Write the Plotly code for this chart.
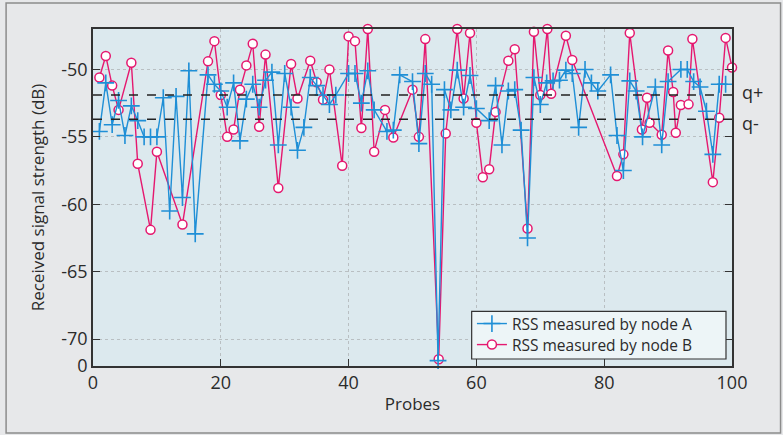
import plotly.graph_objects as go

# ---- data ----
probes_a = [1, 2, 3, 4, 5, 6, 7, 8, 9, 10, 11, 12, 13, 14, 15, 16,
            18, 19, 20, 21, 22, 23, 24, 25, 26, 27, 28, 29, 30, 31, 32, 33, 34, 35, 36, 37, 38,
            40, 41, 42, 43, 44,
            46, 47, 48,
            50, 51, 52, 53, 54, 55, 56, 57, 58, 59, 60,
            62, 63, 64, 65, 66, 67, 68, 69, 70, 71, 72, 73, 74, 75, 76, 77, 78, 79,
            81, 82, 83, 84, 85, 86,
            88, 89, 90,
            92, 93, 94, 95, 96, 97, 98, 99]
rss_a = [-54.6, -51.0, -54.1, -52.3, -54.9, -52.7, -53.8, -55.0, -55.0, -55.0, -52.1, -60.5, -52.0, -59.5, -50.1, -62.2,
         -50.4, -51.1, -51.6, -52.8, -51.0, -55.3, -52.2, -51.1, -52.8, -50.8, -50.2, -55.6, -50.3, -52.8, -56.0, -54.3, -50.6, -51.2, -51.9, -52.6, -51.9,
         -50.3, -50.3, -52.5, -50.1, -53.0,
         -54.6, -54.5, -50.4,
         -50.9, -55.5, -50.3, -51.1, -71.6, -51.5, -53.0, -50.05, -52.8, -50.45, -52.9,
         -53.8, -51.2, -55.6, -51.6, -51.5, -54.5, -62.5, -50.6, -52.6, -51.0, -50.85, -50.8, -50.05, -50.3, -54.3, -50.0, -51.0, -51.6,
         -50.4, -54.9, -57.5, -50.85, -51.6, -55.0,
         -51.3, -55.6, -50.9,
         -50.0, -50.0, -50.9, -51.3, -53.1, -56.3, -51.1, -51.1]

probes_b = [1, 2, 3, 4, 6, 7, 9, 10, 14,
            18, 19, 20, 21, 22, 23, 24, 25, 26, 27,
            29, 31, 32, 34, 35, 36, 37, 39, 40, 41, 42, 43, 44,
            45.7, 47, 50, 51, 52, 54.1, 55.2,
            57, 58, 59, 60, 61, 62, 63, 65, 66, 68, 69, 70, 71.1, 71.7, 74, 75,
            82, 83, 84, 85.9, 86.7, 87.1, 89, 90, 90.8, 91.2, 92, 93.2, 93.8,
            97, 98, 99, 100]
rss_b = [-50.6, -49.0, -51.2, -53.0, -49.5, -57.0, -61.9, -56.1, -61.5,
         -49.4, -47.9, -51.9, -55.0, -54.45, -51.5, -49.7, -48.1, -54.25, -48.9,
         -58.8, -49.6, -52.15, -49.35, -50.95, -52.25, -50.0, -57.15, -47.55, -47.9, -54.35, -47.0, -56.1,
         -53.0, -55.05, -51.5, -55.0, -47.75, -71.5, -54.75,
         -47.0, -52.15, -47.3, -53.95, -58.0, -57.4, -53.15, -49.35, -48.5, -61.8, -47.2, -51.9, -47.0, -51.8, -47.5, -49.3,
         -57.9, -56.3, -47.3, -54.45, -52.1, -53.95, -54.85, -48.6, -51.67, -54.7, -52.64, -52.59, -47.74,
         -58.36, -53.58, -47.66, -49.85]

q_plus = -51.9
q_minus = -53.7

x_ticks = [0, 20, 40, 60, 80, 100]
y_ticks = [-72, -70, -65, -60, -55, -50]
y_ticktext = ["0", "-70", "-65", "-60", "-55", "-50"]

name_a = "RSS measured by node A"
name_b = "RSS measured by node B"

# ---- styling ----
BLUE = "#1f8fd6"
PINK = "#e5186f"
TXT = "#2b2b2b"
FONT = "Open Sans"
PAPER = "#e7e8ea"

fig = go.Figure()

fig.add_trace(go.Scatter(
    x=probes_b, y=rss_b, name=name_b, mode="lines+markers",
    line=dict(color=PINK, width=1.4),
    marker=dict(symbol="circle", size=9, color="white",
                line=dict(color=PINK, width=1.5)),
    cliponaxis=False, legend="legend2",
))
fig.add_trace(go.Scatter(
    x=probes_a, y=rss_a, name=name_a, mode="lines+markers",
    line=dict(color=BLUE, width=1.4),
    marker=dict(symbol="cross-thin", size=12,
                line=dict(color=BLUE, width=1.6)),
    cliponaxis=False, legend="legend",
))

for q in (q_plus, q_minus):
    fig.add_shape(type="line", xref="paper", x0=0, x1=1, yref="y", y0=q, y1=q,
                  line=dict(color="#222222", width=1.4, dash="dash"), layer="above")

fig.add_annotation(x=1, xref="paper", y=q_plus, yref="y", text="q+", showarrow=False,
                   xanchor="left", xshift=8, yshift=3, font=dict(family=FONT, size=18, color=TXT))
fig.add_annotation(x=1, xref="paper", y=q_minus, yref="y", text="q-", showarrow=False,
                   xanchor="left", xshift=8, yshift=-4, font=dict(family=FONT, size=18, color=TXT))

# outer frame
fig.add_shape(type="rect", xref="paper", yref="paper",
              x0=-0.136, x1=1.076, y0=-0.1988, y1=1.0772,
              line=dict(color="#8c8c8c", width=1.5), layer="below")

# legend box
fig.add_shape(type="rect", xref="paper", yref="paper",
              x0=0.5926, x1=0.9906, y0=0.0208, y1=0.1623,
              line=dict(color="#333333", width=1.2), fillcolor="#edf5f7", layer="above")

legend_common = dict(xanchor="left", yanchor="middle", bgcolor="rgba(0,0,0,0)",
                     borderwidth=0, font=dict(family=FONT, size=15.5, color=TXT),
                     tracegroupgap=0)

fig.update_layout(
    width=783, height=435,
    margin=dict(l=93, r=51, t=29, b=69),
    paper_bgcolor=PAPER,
    plot_bgcolor="#dce9ee",
    font=dict(family=FONT, size=17, color=TXT),
    showlegend=True,
    legend=dict(x=0.593, y=0.1247, **legend_common),
    legend2=dict(x=0.593, y=0.0623, **legend_common),
    xaxis=dict(range=[0, 100], tickvals=x_ticks, ticks="inside", ticklen=7,
               tickcolor="#333333", tickwidth=1.3,
               showline=True, linecolor="#333333", linewidth=1.5, mirror=True,
               showgrid=True, gridcolor="#b9bfc2", griddash="dot", gridwidth=1,
               zeroline=False, tickfont=dict(size=18),
               title=dict(text="Probes", standoff=5, font=dict(size=17))),
    xaxis2=dict(range=[0, 100], overlaying="x", side="top", tickvals=x_ticks[1:-1],
                ticks="inside", ticklen=7, tickcolor=BLUE, tickwidth=1.3,
                showticklabels=False, showgrid=False, showline=False, zeroline=False),
    yaxis=dict(range=[-72, -47], tickvals=y_ticks, ticktext=y_ticktext,
               ticks="inside", ticklen=7, tickcolor="#333333", tickwidth=1.3,
               showline=True, linecolor="#333333", linewidth=1.5, mirror="ticks",
               showgrid=True, gridcolor="#b9bfc2", griddash="dot", gridwidth=1,
               zeroline=False, tickfont=dict(size=18),
               title=dict(text="Received signal strength (dB)", standoff=12, font=dict(size=17))),
)

fig.write_html(
    "out.html",
    config={"displayModeBar": False},
    post_script="document.body.style.margin='0';document.body.style.background='%s';" % PAPER,
)
